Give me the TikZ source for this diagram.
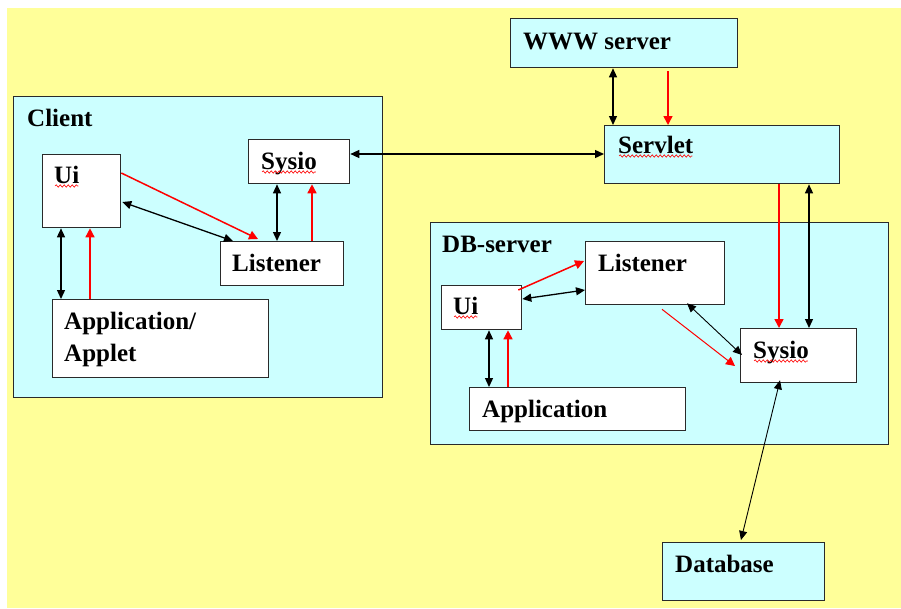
\documentclass[tikz,border=0pt]{standalone}
\usepackage{fontspec}
\setmainfont{Liberation Serif}
\usetikzlibrary{arrows.meta,calc,decorations.pathmorphing}
\definecolor{paper}{HTML}{FFFF99}
\definecolor{pale}{HTML}{CCFFFF}
\definecolor{edge}{HTML}{2A2A2A}
\tikzset{
  box/.style={rectangle, draw=edge, line width=1.3pt, inner sep=0pt, anchor=north west},
  wbox/.style={box, fill=white},
  cbox/.style={box, fill=pale},
  lbl/.style={inner sep=0pt, anchor=base west, font=\fontsize{25}{30}\selectfont\bfseries},
  both/.style={draw=black, line width=1.3pt, {Triangle[length=9pt,width=8pt]}-{Triangle[length=9pt,width=8pt]}},
  thinboth/.style={both, line width=0.9pt},
  rarr/.style={draw=red, line width=1.5pt, -{Triangle[length=9pt,width=9pt]}},
  thinrarr/.style={rarr, line width=1pt},
  squiggle/.style={draw=red, line width=0.6pt, decorate, decoration={snake, amplitude=1.2pt, segment length=4pt}}
}
\begin{document}
\begin{tikzpicture}[x=1pt,y=-1pt]
  \useasboundingbox (0,0) rectangle (901,608);
  % page background
  \fill[white] (0,0) rectangle (901,608);
  \fill[paper] (7,8) rectangle (901,608);

  % client side
  \node[cbox, minimum width=369, minimum height=301] (client) at (13,96) {};
  \node[wbox, minimum width=78,  minimum height=73]  (cui)  at (42,154) {};
  \node[wbox, minimum width=101, minimum height=44]  (csys) at (248,139) {};
  \node[wbox, minimum width=123, minimum height=44]  (clis) at (220,241) {};
  \node[wbox, minimum width=216, minimum height=78]  (capp) at (52,299) {};

  % web tier
  \node[cbox, minimum width=227, minimum height=49]  (www) at (510,18) {};
  \node[cbox, minimum width=235, minimum height=58]  (srv) at (604,125) {};

  % database server side
  \node[cbox, minimum width=458, minimum height=222] (dbs)  at (430,222) {};
  \node[wbox, minimum width=139, minimum height=63]  (dlis) at (585,241) {};
  \node[wbox, minimum width=80,  minimum height=44]  (dui)  at (441,285) {};
  \node[wbox, minimum width=216, minimum height=43]  (dapp) at (469,387) {};
  \node[wbox, minimum width=116, minimum height=54]  (dsys) at (740,328) {};
  \node[cbox, minimum width=162, minimum height=58]  (db)   at (662,542) {};

  % labels
  \node[lbl] (tclient) at (27,126) {Client};
  \node[lbl] (tcui)    at (54,183) {Ui};
  \node[lbl] (tcsys)   at (261,169) {Sysio};
  \node[lbl] (tclis)   at (232,271) {Listener};
  \node[lbl] (tcapp1)  at (64,329) {Application/};
  \node[lbl] (tcapp2)  at (64,361) {Applet};
  \node[lbl] (twww)    at (523,49) {WWW server};
  \node[lbl] (tsrv)    at (618,153) {Servlet};
  \node[lbl] (tdbs)    at (442,252) {DB-server};
  \node[lbl] (tdlis)   at (598,271) {Listener};
  \node[lbl] (tdui)    at (453,314) {Ui};
  \node[lbl] (tdapp)   at (482,417) {Application};
  \node[lbl] (tdsys)   at (753,358) {Sysio};
  \node[lbl] (tdb)     at (675,572) {Database};

  % spell-check squiggles
  \foreach \t in {tcui,tcsys,tsrv,tdui,tdsys}
    \draw[squiggle] ($(\t.base west)+(1,3)$) -- ($(\t.base east)+(-1,3)$);

  % client connectors
  \draw[both] ($(csys.north east)+(0,15)$) -- ($(srv.north west)+(0,29)$);
  \draw[rarr] ($(cui.north east)+(0,19)$) -- ($(clis.north west)+(38,-2)$);
  \draw[both] ($(cui.north east)+(1,48)$) -- ($(clis.north west)+(13,0)$);
  \draw[both] ($(csys.south west)+(29,0)$) -- ($(clis.north west)+(57,0)$);
  \draw[rarr] ($(clis.north west)+(92,0)$) -- ($(csys.south west)+(64,0)$);
  \draw[both] ($(cui.south west)+(19,0)$) -- ($(capp.north west)+(9,0)$);
  \draw[rarr] ($(capp.north west)+(38,0)$) -- ($(cui.south west)+(48,0)$);

  % web tier connectors
  \draw[both] ($(www.south west)+(103,0)$) -- ($(srv.north west)+(9,0)$);
  \draw[rarr] ($(www.south west)+(158,3)$) -- ($(srv.north west)+(64,0)$);
  \draw[rarr] ($(srv.south west)+(175,0)$) -- ($(dsys.north west)+(39,0)$);
  \draw[both] ($(srv.south west)+(205,0)$) -- ($(dsys.north west)+(69,0)$);

  % database server connectors
  \draw[rarr] ($(dui.north east)+(-4,5)$) -- ($(dlis.north west)+(-1,20)$);
  \draw[both] ($(dui.north east)+(0,14)$) -- ($(dlis.north west)+(0,49)$);
  \draw[both] ($(dui.south west)+(48,0)$) -- ($(dapp.north west)+(20,0)$);
  \draw[rarr] ($(dapp.north west)+(39,0)$) -- ($(dui.south west)+(67,0)$);
  \draw[thinrarr] ($(dlis.south west)+(77,4)$) -- ($(dsys.north west)+(-5,38)$);
  \draw[thinboth] ($(dlis.south west)+(102,-2)$) -- ($(dsys.north west)+(2,27)$);
  \draw[thinboth] ($(dsys.south west)+(40,-3)$) -- ($(db.north west)+(79,-2)$);
\end{tikzpicture}
\end{document}
